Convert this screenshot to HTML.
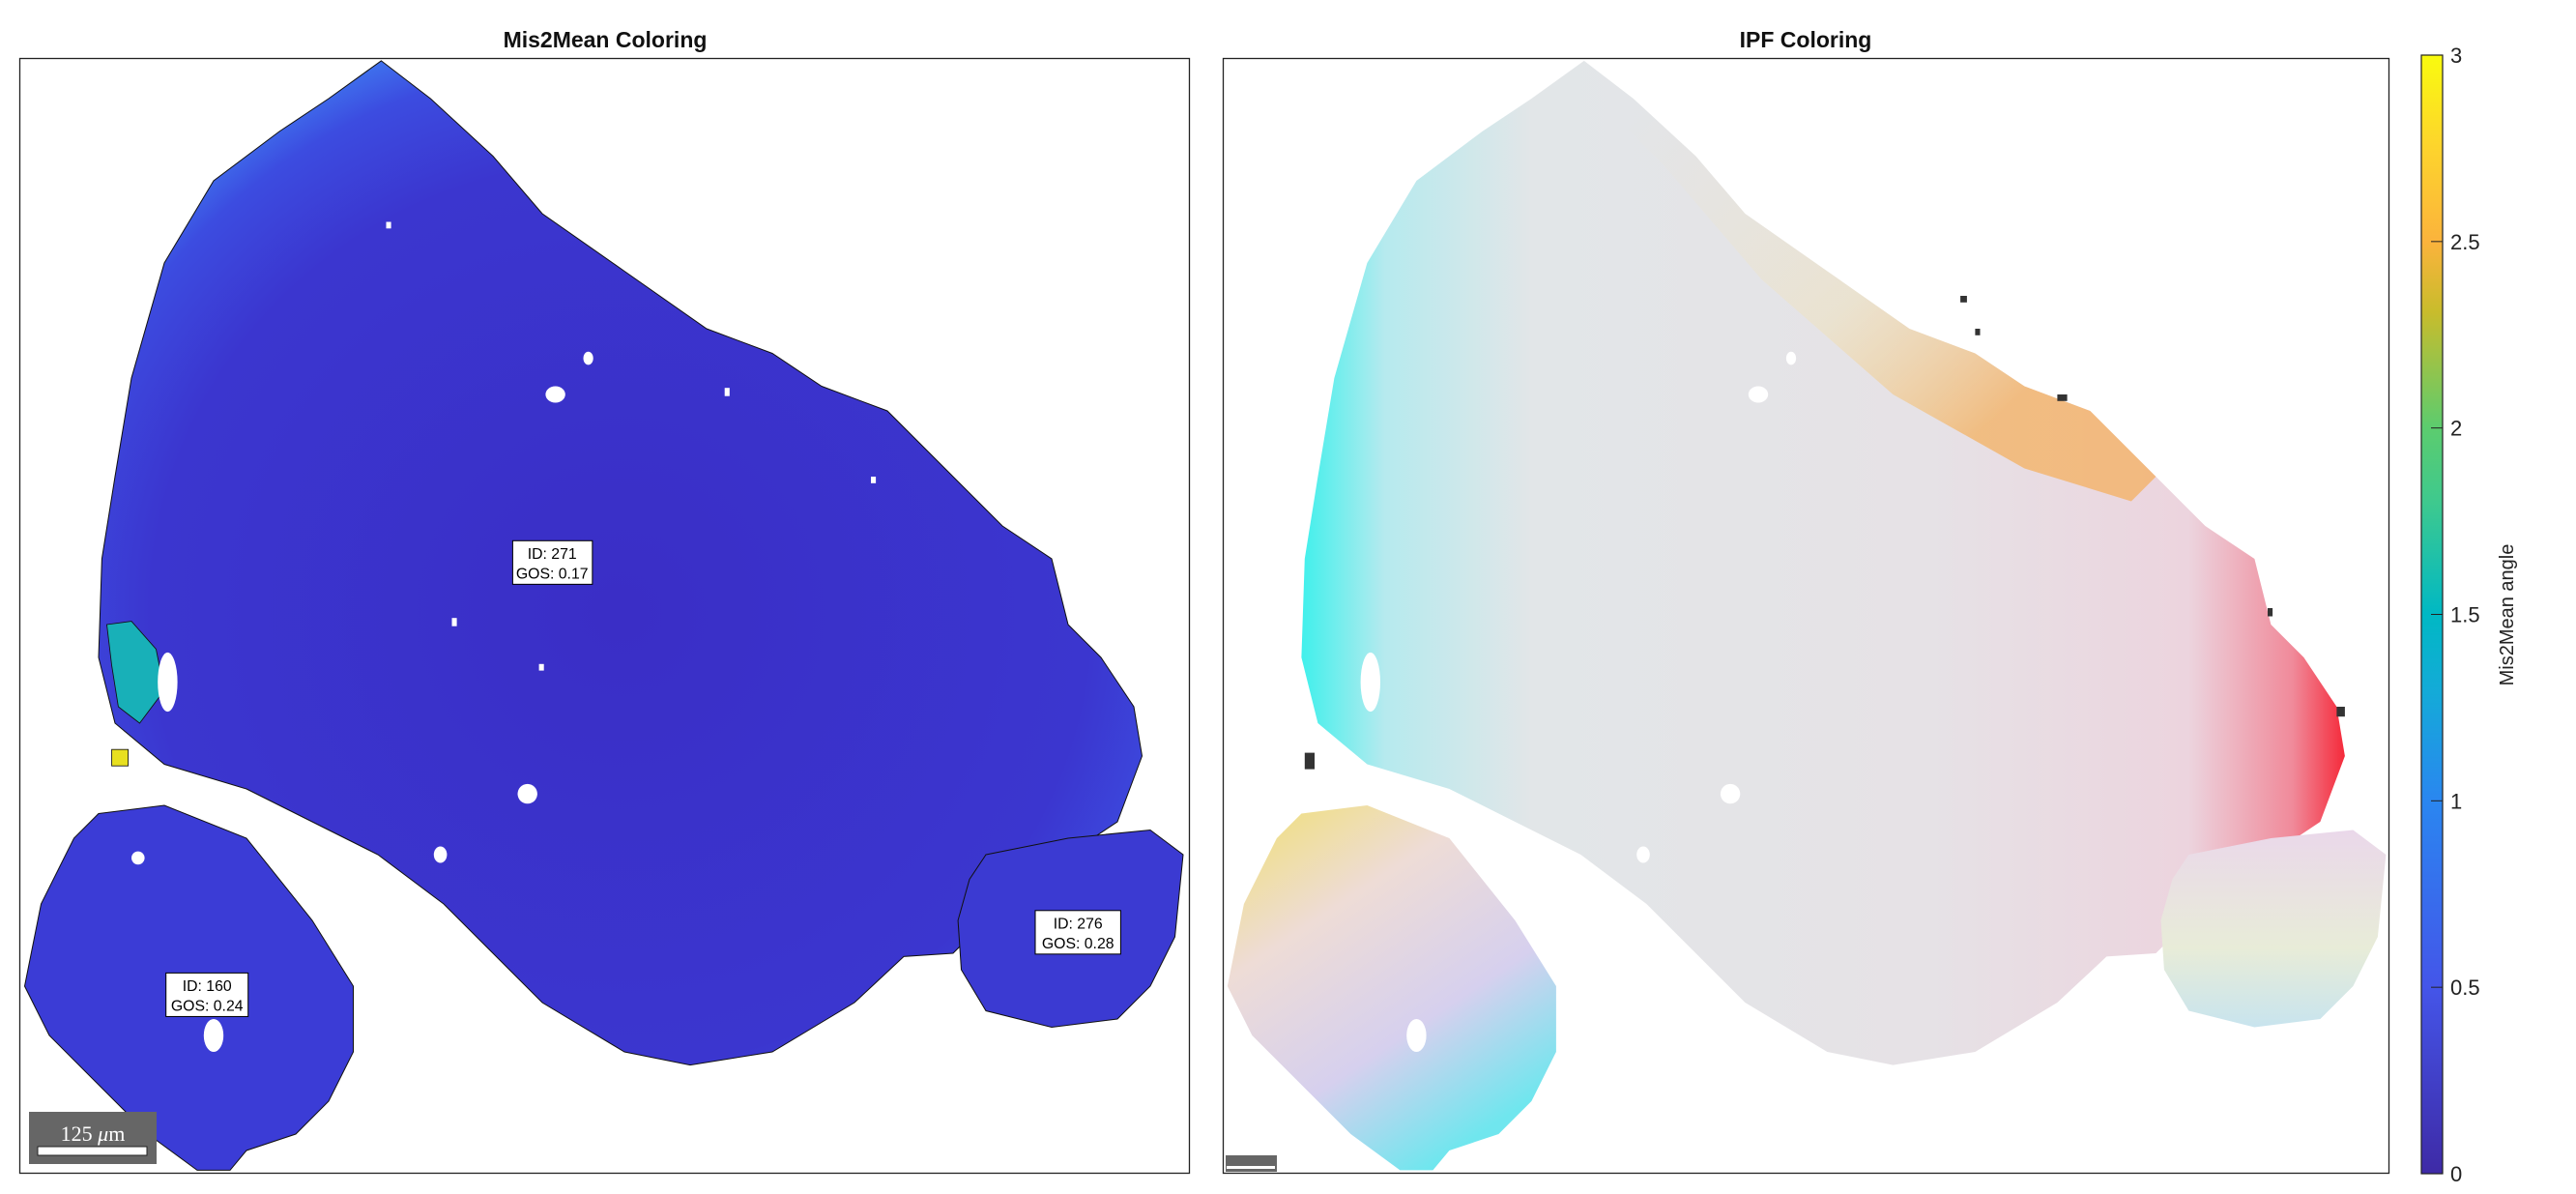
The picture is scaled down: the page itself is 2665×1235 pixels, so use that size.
<!DOCTYPE html>
<html><head><meta charset="utf-8"><style>
html,body{margin:0;padding:0;background:#fff;}
svg{display:block;font-family:"Liberation Sans",sans-serif;}
</style></head><body>
<svg width="2665" height="1235" viewBox="0 0 2665 1235" xmlns="http://www.w3.org/2000/svg">
<defs>
 <linearGradient id="parula" x1="0" y1="1" x2="0" y2="0">
  <stop offset="0" stop-color="#3e2aa6"/>
  <stop offset="0.1667" stop-color="#4455e9"/>
  <stop offset="0.333" stop-color="#2a86f0"/>
  <stop offset="0.43" stop-color="#14aad8"/>
  <stop offset="0.5" stop-color="#00b8c4"/>
  <stop offset="0.6" stop-color="#3ec98e"/>
  <stop offset="0.667" stop-color="#5ccc6e"/>
  <stop offset="0.77" stop-color="#c8bc2c"/>
  <stop offset="0.833" stop-color="#fbb33c"/>
  <stop offset="0.92" stop-color="#fdd52c"/>
  <stop offset="1" stop-color="#f9fb0e"/>
 </linearGradient>
 <radialGradient id="m2m" cx="0.5" cy="0.55" r="0.6">
  <stop offset="0" stop-color="#3a2ec6"/>
  <stop offset="0.75" stop-color="#3b36cf"/>
  <stop offset="0.92" stop-color="#3c4ce0"/>
  <stop offset="1" stop-color="#3f74ee"/>
 </radialGradient>
 <linearGradient id="ipfH" x1="0" y1="0" x2="1" y2="0">
  <stop offset="0" stop-color="#40f0ec"/>
  <stop offset="0.08" stop-color="#b6eaee"/>
  <stop offset="0.22" stop-color="#e2e6e8"/>
  <stop offset="0.6" stop-color="#e6e2e6"/>
  <stop offset="0.85" stop-color="#ecd4de"/>
  <stop offset="0.95" stop-color="#f08a9a"/>
  <stop offset="1" stop-color="#f52a3a"/>
 </linearGradient>
 <linearGradient id="ipfTop" x1="0.2" y1="0" x2="0.9" y2="0.6">
  <stop offset="0" stop-color="#f4e4c0" stop-opacity="0"/>
  <stop offset="0.6" stop-color="#f4e2a8" stop-opacity="0.35"/>
  <stop offset="1" stop-color="#f7a640" stop-opacity="0.6"/>
 </linearGradient>
 <linearGradient id="ipfSmall" x1="0" y1="0" x2="0.6" y2="1">
  <stop offset="0" stop-color="#f0e070"/>
  <stop offset="0.35" stop-color="#eedcd6"/>
  <stop offset="0.7" stop-color="#d6d0ee"/>
  <stop offset="1" stop-color="#70e6ee"/>
 </linearGradient>
 <linearGradient id="ipfRight" x1="0" y1="0" x2="0" y2="1">
  <stop offset="0" stop-color="#ead8ea"/>
  <stop offset="0.6" stop-color="#e8ecd8"/>
  <stop offset="1" stop-color="#c8e4ee"/>
 </linearGradient>
</defs>

<text x="626" y="49" text-anchor="middle" font-size="23" font-weight="bold" fill="#111">Mis2Mean Coloring</text>
<text x="1868" y="49" text-anchor="middle" font-size="23" font-weight="bold" fill="#111">IPF Coloring</text>

<g transform="scale(1.7)">
 <path fill="url(#m2m)" stroke="#111" stroke-width="0.6"
  d="M232,37 L262,60 L300,95 L330,130 L380,165 L430,200 L470,215 L500,235 L540,250 L580,290 L610,320 L640,340 L650,380 L670,400 L690,430 L695,460 L680,500 L650,520 L620,540 L600,560 L580,580 L550,582 L520,610 L470,640 L420,648 L380,640 L330,610 L270,550 L230,520 L190,500 L150,480 L100,465 L70,440 L60,400 L62,340 L70,290 L80,230 L100,160 L130,110 L170,80 L200,60 Z"/>
 <path fill="#3b3cd6" stroke="#111" stroke-width="0.6"
  d="M60,495 L100,490 L150,510 L190,560 L215,600 L215,640 L200,670 L180,690 L150,700 L140,712 L120,712 L90,690 L60,660 L30,630 L15,600 L25,550 L45,510 Z"/>
 <path fill="#3b3ad2" stroke="#111" stroke-width="0.6"
  d="M600,520 L650,510 L700,505 L720,520 L715,570 L700,600 L680,620 L640,625 L600,615 L585,590 L583,560 L590,535 Z"/>
 <path fill="#18b0b8" stroke="#111" stroke-width="0.5" d="M65,380 L80,378 L95,395 L100,420 L85,440 L72,430 L68,405 Z"/>
 <rect x="68" y="456" width="10" height="10" fill="#e8e020" stroke="#111" stroke-width="0.5"/>
 <g fill="#fff">
  <ellipse cx="338" cy="240" rx="6" ry="5"/><ellipse cx="358" cy="218" rx="3" ry="4"/>
  <ellipse cx="321" cy="483" rx="6" ry="6"/><ellipse cx="268" cy="520" rx="4" ry="5"/>
  <ellipse cx="84" cy="522" rx="4" ry="4"/><ellipse cx="130" cy="630" rx="6" ry="10"/>
  <ellipse cx="102" cy="415" rx="6" ry="18"/><rect x="275" y="376" width="3" height="5"/>
  <rect x="328" y="404" width="3" height="4"/><rect x="235" y="135" width="3" height="4"/>
  <rect x="441" y="236" width="3" height="5"/><rect x="530" y="290" width="3" height="4"/>
 </g>
 <g font-size="9.3" text-anchor="middle" fill="#000">
  <g><rect x="312" y="329" width="48.5" height="26.5" fill="#fff" stroke="#000" stroke-width="0.6"/><text x="336" y="340">ID: 271</text><text x="336" y="352">GOS: 0.17</text></g>
  <g><rect x="630" y="554" width="52" height="26.5" fill="#fff" stroke="#000" stroke-width="0.6"/><text x="656" y="565">ID: 276</text><text x="656" y="577">GOS: 0.28</text></g>
  <g><rect x="101" y="592" width="50" height="26.5" fill="#fff" stroke="#000" stroke-width="0.6"/><text x="126" y="603">ID: 160</text><text x="126" y="615">GOS: 0.24</text></g>
 </g>
</g>

<g>
 <rect x="30" y="1150" width="132" height="54" fill="#666"/>
 <text x="96" y="1180" text-anchor="middle" font-family="Liberation Serif,serif" font-size="22" fill="#fff">125 <tspan font-style="italic">μ</tspan>m</text>
 <rect x="39" y="1186" width="113" height="9" fill="#fff" stroke="#222" stroke-width="1"/>
</g>

<g transform="translate(1244.4,0) scale(1.7)">
 <path fill="url(#ipfH)"
  d="M232,37 L262,60 L300,95 L330,130 L380,165 L430,200 L470,215 L500,235 L540,250 L580,290 L610,320 L640,340 L650,380 L670,400 L690,430 L695,460 L680,500 L650,520 L620,540 L600,560 L580,580 L550,582 L520,610 L470,640 L420,648 L380,640 L330,610 L270,550 L230,520 L190,500 L150,480 L100,465 L70,440 L60,400 L62,340 L70,290 L80,230 L100,160 L130,110 L170,80 L200,60 Z"/>
 <path fill="url(#ipfTop)"
  d="M232,37 L262,60 L300,95 L330,130 L380,165 L430,200 L470,215 L500,235 L540,250 L580,290 L565,305 L500,285 L420,240 L340,170 L280,100 L240,60 Z"/>
 <path fill="url(#ipfSmall)"
  d="M60,495 L100,490 L150,510 L190,560 L215,600 L215,640 L200,670 L180,690 L150,700 L140,712 L120,712 L90,690 L60,660 L30,630 L15,600 L25,550 L45,510 Z"/>
 <path fill="url(#ipfRight)"
  d="M600,520 L650,510 L700,505 L720,520 L715,570 L700,600 L680,620 L640,625 L600,615 L585,590 L583,560 L590,535 Z"/>
 <g fill="#fff">
  <ellipse cx="338" cy="240" rx="6" ry="5"/><ellipse cx="358" cy="218" rx="3" ry="4"/>
  <ellipse cx="321" cy="483" rx="6" ry="6"/><ellipse cx="268" cy="520" rx="4" ry="5"/>
  <ellipse cx="130" cy="630" rx="6" ry="10"/><ellipse cx="102" cy="415" rx="6" ry="18"/>
 </g>
 <g fill="#333">
  <rect x="461" y="180" width="4" height="4"/><rect x="470" y="200" width="3" height="4"/>
  <rect x="520" y="240" width="6" height="4"/><rect x="648" y="370" width="3" height="5"/>
  <rect x="690" y="430" width="5" height="6"/><rect x="62" y="458" width="6" height="10"/>
 </g>
</g>

<rect x="20.5" y="60.5" width="1210" height="1153" fill="none" stroke="#222" stroke-width="1.3"/>
<rect x="1265.5" y="60.5" width="1206" height="1153" fill="none" stroke="#222" stroke-width="1.3"/>
<g><rect x="1268" y="1195" width="53" height="17" fill="#666"/><rect x="1269" y="1206" width="50" height="3" fill="#fff"/></g>

<g id="cbar">
 <rect x="2505" y="57" width="22" height="1157" fill="url(#parula)" stroke="#222" stroke-width="1.2"/>
 <text transform="translate(2600,636) rotate(-90)" text-anchor="middle" font-size="20" fill="#222">Mis2Mean angle</text>
</g>
<script>
const cbarTicks=[0,0.5,1,1.5,2,2.5,3];
const cbarTickLabels=["0","0.5","1","1.5","2","2.5","3"];
const cbarMin=0, cbarMax=3;
(function(){
 const ns="http://www.w3.org/2000/svg";
 const g=document.getElementById('cbar');
 const top=57,bot=1214;
 const y=v=>bot-(v-cbarMin)/(cbarMax-cbarMin)*(bot-top);
 cbarTicks.forEach((v,i)=>{
  const l=document.createElementNS(ns,'line');
  l.setAttribute('x1',2515);l.setAttribute('x2',2527);
  l.setAttribute('y1',y(v));l.setAttribute('y2',y(v));
  l.setAttribute('stroke','#222');l.setAttribute('stroke-width','1');
  
  
  g.appendChild(l);
  const t=document.createElementNS(ns,'text');
  t.setAttribute('x',2535);t.setAttribute('y',y(v)+8);
  t.setAttribute('font-size','22');t.setAttribute('fill','#222');
  t.textContent=cbarTickLabels[i];
  
  
  g.appendChild(t);
 });
})();
</script>
</svg>
</body></html>
